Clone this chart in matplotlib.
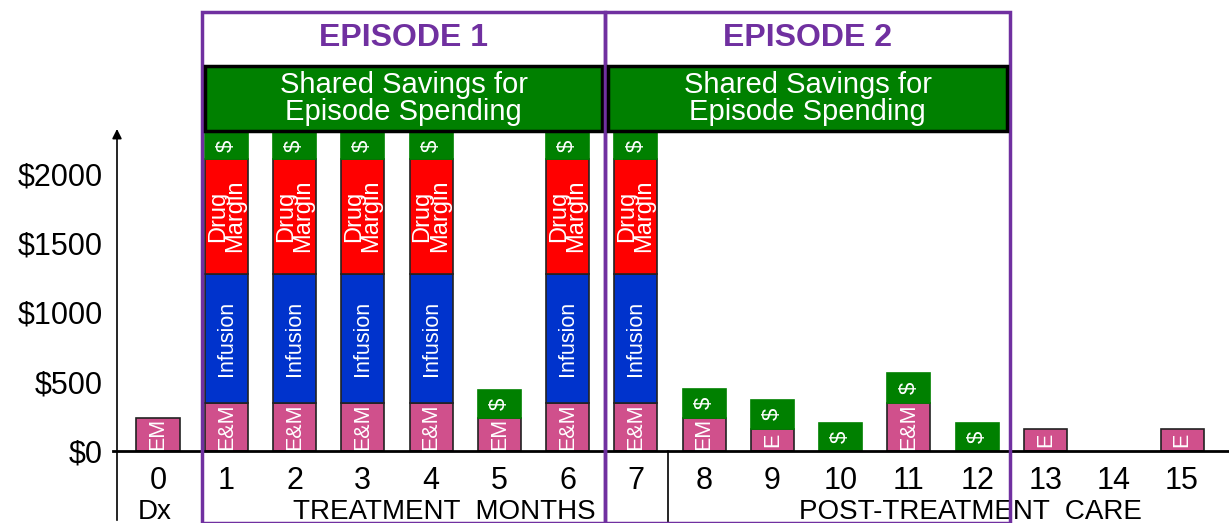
import matplotlib
matplotlib.use("Agg")
import matplotlib.pyplot as plt
from matplotlib.patches import Rectangle

plt.rcParams['font.family'] = ['Liberation Sans', 'DejaVu Sans']

# monthly spending, stacked bottom to top
months = list(range(16))
em_cost = [240, 350, 350, 350, 350, 240, 350, 350, 240, 160, 0, 350, 0, 160, 0, 160]
em_label = ["EM", "E&M", "E&M", "E&M", "E&M", "EM", "E&M", "E&M", "EM", "E", "", "E&M", "", "E", "", "E"]
infusion = [0, 930, 930, 930, 930, 0, 930, 930, 0, 0, 0, 0, 0, 0, 0, 0]
drug_margin = [0, 830, 830, 830, 830, 0, 830, 830, 0, 0, 0, 0, 0, 0, 0, 0]
savings = [0, 190, 190, 190, 190, 200, 190, 190, 210, 210, 200, 210, 200, 0, 0, 0]

yticks = [0, 500, 1000, 1500, 2000]
ytick_labels = ["$0", "$500", "$1000", "$1500", "$2000"]
episodes = ["EPISODE 1", "EPISODE 2"]
banner = "Shared Savings for\nEpisode Spending"

PINK = "#D0508C"
BLUE = "#0033CC"
RED = "#FF0000"
GREEN = "#008000"
PURPLE = "#7030A0"

fig = plt.figure(figsize=(12.29, 5.23), dpi=100)
ax = fig.add_axes([117 / 1229, 72 / 523, 1112 / 1229, 323 / 523])
ax.set_xlim(-0.6006, 15.688)
ax.set_ylim(0, 2332)
for s in ax.spines.values():
    s.set_visible(False)
ax.set_xticks([])
ax.set_yticks(yticks)
ax.set_yticklabels(ytick_labels, fontsize=22)
ax.tick_params(axis='y', length=0, pad=10)

ymin = -520
w = 0.63

# stacked bars
segments = [(em_cost, PINK, em_label), (infusion, BLUE, "Infusion"),
            (drug_margin, RED, "Drug\nMargin"), (savings, GREEN, "$")]
bottom = [0] * 16
for vals, col, lab in segments:
    for i, m in enumerate(months):
        v = vals[i]
        if v <= 0:
            continue
        ec = GREEN if col == GREEN else "#222222"
        ax.bar(m, v, w, bottom=bottom[i], color=col, edgecolor=ec, linewidth=1.2, zorder=3)
        t = lab[i] if isinstance(lab, list) else lab
        fs = {"$": 16, "Drug\nMargin": 17}.get(t, 15.5)
        ax.text(m, bottom[i] + v / 2, t, rotation=90, color="white", fontsize=fs,
                ha="center", va="center", linespacing=0.72, zorder=4)
    bottom = [b + v for b, v in zip(bottom, vals)]

# baseline and y axis with arrow
ax.plot([-0.66, 15.7], [0, 0], color="black", lw=2, clip_on=False, zorder=5)
ax.annotate("", xy=(-0.6006, 2345), xytext=(-0.6006, ymin), annotation_clip=False,
            arrowprops=dict(arrowstyle="-|>", color="black", lw=1.2, mutation_scale=14))

# table line beside month 7
ax.plot([7.47, 7.47], [0, ymin], color="black", lw=1.2, clip_on=False)

# episode frames
ep_edges = [0.6445, 6.548, 12.48]
top = 3170
for j in range(2):
    x0, x1 = ep_edges[j], ep_edges[j + 1]
    ax.add_patch(Rectangle((x0, ymin), x1 - x0, top - ymin, fill=False, edgecolor=PURPLE,
                           lw=2.5, clip_on=False, zorder=6))
    ax.text((x0 + x1) / 2, 2985, episodes[j], color=PURPLE, fontsize=23, fontweight="bold",
            ha="center", va="center")
    ax.add_patch(Rectangle((x0 + 0.04, 2310), x1 - x0 - 0.08, 470, facecolor=GREEN,
                           edgecolor="black", lw=2.5, clip_on=False, zorder=6))
    ax.text((x0 + x1) / 2, 2545, banner, color="white", fontsize=21, ha="center", va="center",
            linespacing=0.92, zorder=7)

# month numbers and phase labels
for m in months:
    ax.text(m, -215, str(m), fontsize=22, ha="center", va="center")
ax.text(-0.05, -440, "Dx", fontsize=20, ha="center", va="center")
ax.text(4.2, -440, "TREATMENT  MONTHS", fontsize=20, ha="center", va="center")
ax.text(11.9, -440, "POST-TREATMENT  CARE", fontsize=20, ha="center", va="center")

fig.savefig("out.png", dpi=100)
